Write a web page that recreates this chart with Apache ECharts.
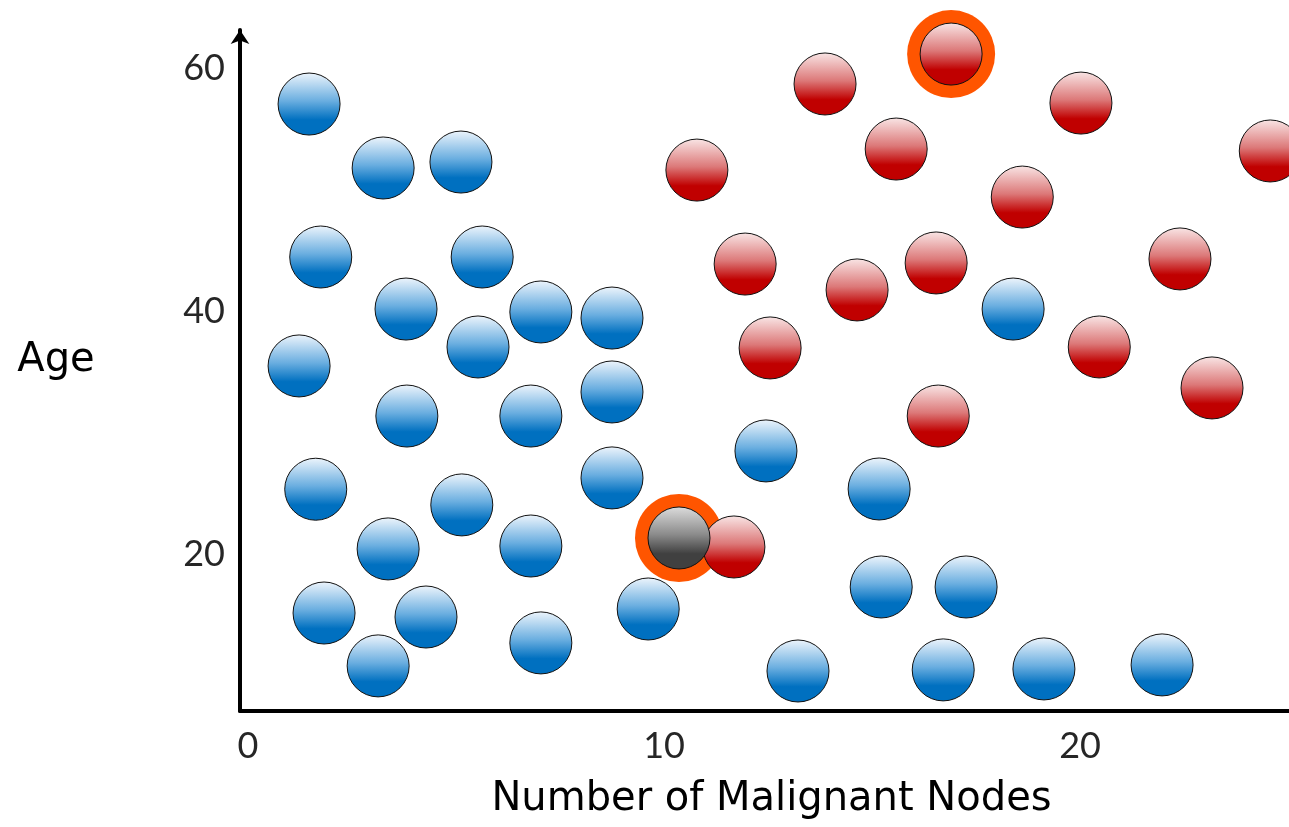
<!DOCTYPE html>
<html>
<head>
<meta charset="utf-8">
<script src="https://cdn.jsdelivr.net/npm/echarts@6/dist/echarts.min.js"></script>
<style>
  html, body { margin: 0; padding: 0; background: #ffffff; }
  #chart { width: 1289px; height: 827px; }
</style>
</head>
<body>
<div id="chart"></div>
<script>
// Patients: [number of malignant nodes, age]
const benign = [
  [1.47, 57.07], [3.25, 51.81], [5.12, 52.30], [1.75, 44.49], [5.63, 44.49],
  [3.80, 40.21], [7.04, 39.97], [8.75, 39.47], [1.23, 35.53], [5.53, 37.09],
  [3.82, 31.41], [6.80, 31.41], [8.75, 33.39], [1.63, 25.39], [5.14, 24.10],
  [8.75, 26.32], [3.37, 20.48], [6.80, 20.72], [1.83, 15.21], [4.28, 14.88],
  [3.13, 10.86], [7.04, 12.75], [9.62, 15.54], [12.45, 28.54], [18.39, 40.21],
  [15.17, 25.41], [15.22, 17.35], [17.26, 17.35], [13.22, 10.44], [16.71, 10.53],
  [19.13, 10.61], [21.97, 10.94]
];
const malignant = [
  [10.79, 51.64], [11.95, 43.91], [12.55, 37.01], [13.87, 58.72], [14.64, 41.78],
  [15.58, 53.37], [16.54, 44.00], [16.59, 31.41], [16.90, 61.18], [18.61, 49.42],
  [20.02, 57.15], [20.46, 37.09], [22.40, 44.33], [23.17, 33.72], [24.57, 53.21],
  [11.68, 20.64]
];
const unknown = [[10.36, 21.38]];
// points circled in orange
const highlighted = [[10.36, 21.38], [16.90, 61.18]];

const xTicks = [0, 10, 20];
const yTicks = [20, 40, 60];

function sphere(top, mid, bottom) {
  return {
    type: 'linear', x: 0, y: 0, x2: 0, y2: 1,
    colorStops: [
      { offset: 0, color: top },
      { offset: 0.45, color: mid },
      { offset: 0.75, color: bottom },
      { offset: 1, color: bottom }
    ]
  };
}

const TICK_FONT = 'Lato';
const TITLE_FONT = 'DejaVu Sans';
const ball = 62;

const chart = echarts.init(document.getElementById('chart'), null, { renderer: 'canvas' });
chart.setOption({
  animation: false,
  backgroundColor: '#ffffff',
  grid: { left: 240, right: 0, top: 30, bottom: 116, containLabel: false },
  xAxis: {
    type: 'value',
    min: -0.19,
    max: 25.02,
    name: 'Number of Malignant Nodes',
    nameLocation: 'middle',
    nameGap: 89,
    nameTextStyle: {
      fontFamily: TITLE_FONT, fontSize: 40, color: '#000',
      align: 'center', verticalAlign: 'middle', padding: [0, 0, 0, 14]
    },
    axisLine: { show: true, lineStyle: { color: '#000', width: 4 } },
    axisTick: { show: false },
    splitLine: { show: false },
    axisLabel: {
      customValues: xTicks,
      margin: 35,
      verticalAlign: 'middle',
      fontFamily: TICK_FONT, fontSize: 36, color: '#262626'
    }
  },
  yAxis: {
    type: 'value',
    min: 7.15,
    max: 63.16,
    name: 'Age',
    nameLocation: 'middle',
    nameRotate: 0,
    nameGap: 184,
    nameTextStyle: {
      fontFamily: TITLE_FONT, fontSize: 40, color: '#000',
      align: 'center', verticalAlign: 'bottom', lineHeight: 20
    },
    axisLine: {
      show: true, onZero: false,
      symbol: ['none', 'arrow'], symbolSize: [14, 14],
      lineStyle: { color: '#000', width: 4 }
    },
    axisTick: { show: false },
    splitLine: { show: false },
    axisLabel: {
      customValues: yTicks,
      margin: 15,
      fontFamily: TICK_FONT, fontSize: 36, color: '#262626'
    }
  },
  series: [
    {
      name: 'ring', type: 'scatter', data: highlighted, symbol: 'circle', symbolSize: 88,
      itemStyle: { color: '#ff5500', opacity: 1 }, silent: true
    },
    {
      name: 'benign', type: 'scatter', data: benign, symbol: 'circle', symbolSize: ball,
      itemStyle: { color: sphere('#eef5fc', '#6aaee0', '#0070c0'), borderColor: '#111', borderWidth: 1, opacity: 1 }
    },
    {
      name: 'malignant', type: 'scatter', data: malignant, symbol: 'circle', symbolSize: ball,
      itemStyle: { color: sphere('#f9e6e6', '#dc7878', '#c00000'), borderColor: '#111', borderWidth: 1, opacity: 1 }
    },
    {
      name: 'unknown', type: 'scatter', data: unknown, symbol: 'circle', symbolSize: ball,
      itemStyle: { color: sphere('#dddddd', '#8a8a8a', '#404040'), borderColor: '#111', borderWidth: 1, opacity: 1 }
    }
  ]
});
</script>
</body>
</html>
